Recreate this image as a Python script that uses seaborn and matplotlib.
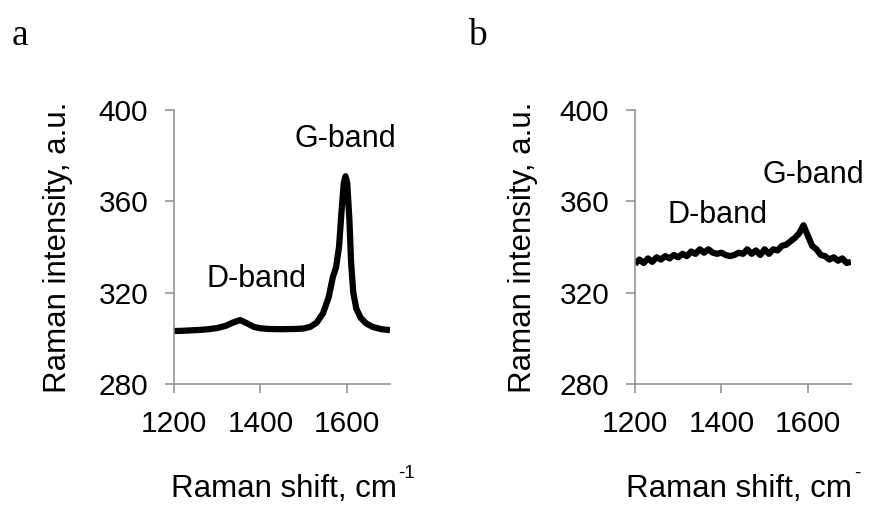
import numpy as np
import pandas as pd
import matplotlib
matplotlib.use("Agg")
import matplotlib.pyplot as plt
import seaborn as sns

# Raman spectra
shift_a = [1200, 1220, 1240, 1260, 1280, 1300, 1320, 1335, 1353, 1370,
           1385, 1400, 1420, 1450, 1480, 1500, 1515, 1530, 1545, 1558,
           1568, 1575, 1582, 1588, 1593, 1597, 1601, 1606, 1610, 1615,
           1622, 1632, 1645, 1660, 1680, 1700]
intensity_a = [303.2, 303.3, 303.5, 303.7, 304.0, 304.5, 305.5, 306.8, 308.0, 306.5,
               305.0, 304.4, 304.1, 304.0, 304.1, 304.3, 305.0, 306.8, 311.0, 318.0,
               327.0, 331.0, 340.0, 356.0, 368.0, 371.0, 368.0, 352.0, 333.0, 320.0,
               313.0, 309.0, 306.5, 305.0, 304.0, 303.6]

shift_b = [1200, 1210, 1220, 1230, 1240, 1250, 1260, 1270, 1280, 1290,
           1300, 1310, 1320, 1330, 1340, 1350, 1360, 1370, 1380, 1390,
           1400, 1410, 1420, 1430, 1440, 1450, 1460, 1470, 1480, 1490,
           1500, 1510, 1520, 1530, 1540, 1550, 1560, 1570, 1580, 1590,
           1600, 1610, 1620, 1630, 1640, 1650, 1660, 1670, 1680, 1690, 1700]
intensity_b = [332.5, 334.5, 333.0, 335.0, 333.5, 335.5, 334.5, 336.0, 335.0, 336.5,
               335.5, 337.0, 336.0, 338.0, 337.0, 339.0, 337.5, 339.0, 337.5, 337.0,
               337.5, 336.5, 336.0, 336.5, 337.5, 337.0, 339.0, 337.0, 338.5, 336.5,
               339.0, 337.0, 339.0, 338.5, 340.5, 341.0, 342.5, 344.0, 346.0, 349.5,
               345.0, 340.5, 339.0, 336.5, 336.0, 334.5, 335.5, 334.0, 335.0, 333.0, 333.5]

x_ticks = [1200, 1400, 1600]
y_ticks = [280, 320, 360, 400]

sns.set_style("white", {"text.color": "black", "axes.labelcolor": "black",
                        "xtick.color": "black", "ytick.color": "black"})
plt.rcParams["font.family"] = ["Liberation Sans", "DejaVu Sans"]

fig = plt.figure(figsize=(8.69, 5.13), dpi=100)
W, H = 869, 513

panels = [
    dict(x=shift_a, y=intensity_a, left=174, letter="a", letter_x=12, ylab_x=58,
         xlab_right=397, sup="-1", sup_x=398,
         notes=[("G-band", 1597.7, 383.8), ("D-band", 1390.7, 322.5)]),
    dict(x=shift_b, y=intensity_b, left=635, letter="b", letter_x=468, ylab_x=523,
         xlab_right=852, sup="-", sup_x=854,
         notes=[("G-band", 1612.8, 368.0), ("D-band", 1390.0, 350.5)]),
]

for p in panels:
    ax = fig.add_axes([p["left"] / W, (H - 384) / H, 216 / W, 274 / H])
    df = pd.DataFrame({"shift": p["x"], "intensity": p["y"]})
    sns.lineplot(data=df, x="shift", y="intensity", ax=ax, color="black",
                 linewidth=4.5, solid_joinstyle="round", solid_capstyle="butt")
    ax.set_xlim(1200, 1700)
    ax.set_ylim(280, 400)
    ax.set_xticks(x_ticks)
    ax.set_yticks(y_ticks)
    ax.set_xlabel("")
    ax.set_ylabel("")
    for side in ["top", "right"]:
        ax.spines[side].set_visible(False)
    for side in ["left", "bottom"]:
        ax.spines[side].set_color("#8c8c8c")
        ax.spines[side].set_linewidth(1.1)
    ax.tick_params(axis="both", direction="out", length=6.5, width=1.1,
                   color="#8c8c8c", labelcolor="black", labelsize=21.5, pad=12,
                   left=True, bottom=True)
    for txt, tx, ty in p["notes"]:
        ax.text(tx, ty, txt, ha="center", va="baseline", fontsize=22,
                color="black", clip_on=False)

    fig.text(p["letter_x"] / W, 1 - 45 / H, p["letter"], family="Liberation Serif",
             fontsize=27, ha="left", va="baseline", color="black")
    fig.text(p["ylab_x"] / W, 1 - 247 / H, "Raman intensity, a.u.", rotation=90,
             fontsize=22.5, ha="center", va="center", color="black")
    fig.text(p["xlab_right"] / W, 1 - 497 / H, "Raman shift, cm", fontsize=22.5,
             ha="right", va="baseline", color="black")
    fig.text(p["sup_x"] / W, 1 - 478 / H, p["sup"], fontsize=13.5,
             ha="left", va="baseline", color="black")

fig.savefig("out.png", dpi=100)
